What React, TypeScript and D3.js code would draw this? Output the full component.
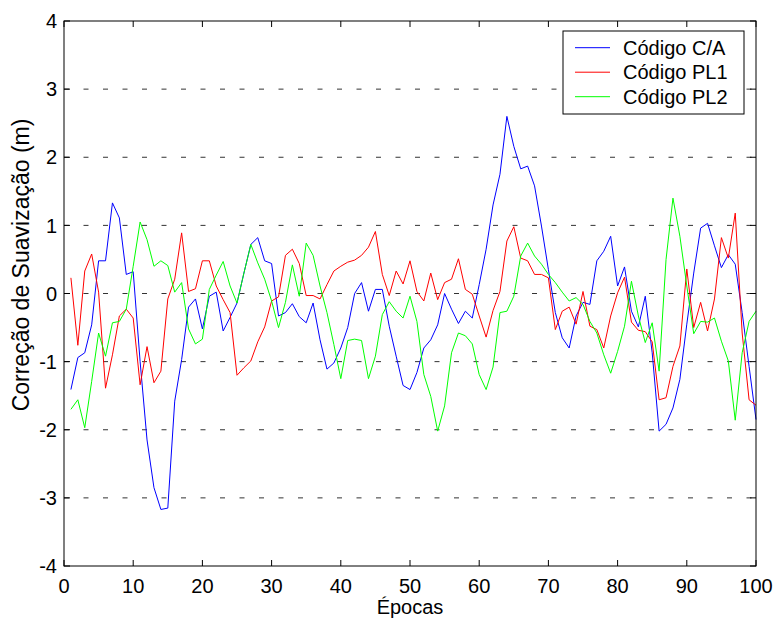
import React from "react";
import * as d3 from "d3";

const epochs: number[] = Array.from({ length: 100 }, (_, i) => i + 1);

const codigoCA: number[] = [
  -1.41, -0.94, -0.87, -0.46, 0.48, 0.48, 1.33, 1.11, 0.28, 0.32,
  -1.0, -2.15, -2.85, -3.17, -3.15, -1.58, -0.97, -0.2, -0.08, -0.52,
  -0.04, 0.02, -0.55, -0.35, -0.14, 0.3, 0.72, 0.82, 0.48, 0.44,
  -0.33, -0.28, -0.15, -0.34, -0.43, -0.14, -0.68, -1.11, -1.02, -0.8,
  -0.5, 0.0, 0.16, -0.26, 0.06, 0.06, -0.48, -0.92, -1.35, -1.41,
  -1.16, -0.8, -0.68, -0.46, 0.0, -0.23, -0.44, -0.26, -0.36, 0.13,
  0.65, 1.3, 1.75, 2.6, 2.16, 1.83, 1.87, 1.58, 0.99, 0.35,
  -0.28, -0.65, -0.8, -0.33, -0.13, -0.16, 0.48, 0.62, 0.84, 0.11,
  0.39, -0.26, -0.49, -0.04, -0.87, -2.02, -1.92, -1.68, -1.26, -0.45,
  0.3, 0.96, 1.03, 0.7, 0.38, 0.57, 0.43, -0.28, -1.07, -1.85,
];

const codigoPL1: number[] = [
  0.23, -0.76, 0.33, 0.58, 0.02, -1.39, -0.9, -0.33, -0.23, -0.36,
  -1.34, -0.78, -1.31, -1.14, -0.08, 0.21, 0.89, 0.03, 0.07, 0.48,
  0.48, 0.11, -0.09, -0.28, -1.2, -1.09, -0.99, -0.71, -0.49, -0.11,
  -0.05, 0.56, 0.65, 0.44, -0.03, -0.03, -0.08, 0.13, 0.33, 0.4,
  0.46, 0.49, 0.56, 0.68, 0.91, 0.28, -0.03, 0.33, 0.14, 0.48,
  0.03, -0.11, 0.3, -0.09, 0.16, 0.21, 0.51, 0.06, -0.01, -0.33,
  -0.64, -0.25, 0.03, 0.77, 0.98, 0.52, 0.48, 0.28, 0.28, 0.23,
  -0.53, -0.26, -0.2, -0.45, 0.03, -0.48, -0.53, -0.8, -0.33, 0.01,
  0.24, -0.42, -0.54, -0.56, -0.71, -1.56, -1.53, -1.07, -0.77, 0.36,
  -0.5, -0.13, -0.55, -0.08, 0.82, 0.52, 1.18, -0.58, -1.56, -1.64,
];

const codigoPL2: number[] = [
  -1.7, -1.56, -1.97, -1.29, -0.58, -0.92, -0.43, -0.41, -0.23, 0.4,
  1.05, 0.79, 0.4, 0.48, 0.41, 0.02, 0.16, -0.52, -0.74, -0.67,
  0.06, 0.27, 0.47, 0.11, -0.14, 0.3, 0.72, 0.45, 0.21, -0.11,
  -0.5, -0.13, 0.42, -0.04, 0.74, 0.56, 0.11, -0.28, -0.75, -1.25,
  -0.69, -0.67, -0.69, -1.25, -0.92, -0.31, -0.12, -0.26, -0.36, -0.04,
  -0.41, -1.19, -1.51, -2.02, -1.65, -0.87, -0.58, -0.62, -0.74, -1.19,
  -1.41, -1.08, -0.28, -0.26, -0.04, 0.55, 0.74, 0.55, 0.43, 0.28,
  0.16, 0.02, -0.11, -0.06, -0.16, -0.41, -0.58, -0.9, -1.17, -0.85,
  -0.48, 0.18, -0.33, -0.72, -0.43, -1.14, 0.5, 1.4, 0.84, 0.11,
  -0.59, -0.41, -0.42, -0.36, -0.7, -0.99, -1.86, -0.87, -0.41, -0.26,
];

const seriesNames: string[] = ["Código C/A", "Código PL1", "Código PL2"];
const seriesColors: string[] = ["#0000ff", "#ff0000", "#00ff00"];
const xTicks: number[] = [0, 10, 20, 30, 40, 50, 60, 70, 80, 90, 100];
const yTicks: number[] = [-4, -3, -2, -1, 0, 1, 2, 3, 4];
const gridValues: number[] = [-3, -2, -1, 0, 1, 2, 3];

const W = 776;
const H = 622;
const L = 64;
const R = 756;
const T = 21;
const B = 566;
const FONT = "Arial, 'Liberation Sans', Helvetica, sans-serif";

export default function App() {
  const x = d3.scaleLinear().domain([0, 100]).range([L, R]);
  const y = d3.scaleLinear().domain([-4, 4]).range([B, T]);
  const line = d3
    .line<[number, number]>()
    .x((d) => x(d[0]))
    .y((d) => y(d[1]));
  const allSeries = [codigoCA, codigoPL1, codigoPL2];
  const tickLen = 6;

  return (
    <svg
      width={W}
      height={H}
      style={{ position: "absolute", left: 0, top: 0, background: "#fff" }}
      fontFamily={FONT}
    >
      <rect x={0} y={0} width={W} height={H} fill="#fff" />
      {gridValues.map((v) => (
        <line
          key={"g" + v}
          x1={L}
          x2={R}
          y1={y(v)}
          y2={y(v)}
          stroke="#333"
          strokeWidth={1}
          strokeDasharray="5,14.5"
        />
      ))}
      {allSeries.map((s, i) => (
        <path
          key={"s" + i}
          d={line(epochs.map((e, j) => [e, s[j]] as [number, number])) || ""}
          fill="none"
          stroke={seriesColors[i]}
          strokeWidth={1}
        />
      ))}
      <rect x={L} y={T} width={R - L} height={B - T} fill="none" stroke="#000" strokeWidth={1} />
      {xTicks.map((t) => (
        <g key={"xt" + t}>
          <line x1={x(t)} x2={x(t)} y1={B} y2={B - tickLen} stroke="#000" />
          <line x1={x(t)} x2={x(t)} y1={T} y2={T + tickLen} stroke="#000" />
          <text x={x(t)} y={593} fontSize={20} textAnchor="middle" fill="#000">
            {t}
          </text>
        </g>
      ))}
      {yTicks.map((t) => (
        <g key={"yt" + t}>
          <line x1={L} x2={L + tickLen} y1={y(t)} y2={y(t)} stroke="#000" />
          <line x1={R} x2={R - tickLen} y1={y(t)} y2={y(t)} stroke="#000" />
          <text x={57} y={y(t)} dy="0.36em" fontSize={20} textAnchor="end" fill="#000">
            {t}
          </text>
        </g>
      ))}
      <text x={(L + R) / 2} y={614} fontSize={20} textAnchor="middle" fill="#000">
        Épocas
      </text>
      <text
        transform={`translate(28.5, 265) rotate(-90)`}
        fontSize={23}
        textAnchor="middle"
        fill="#000"
      >
        Correção de Suavização (m)
      </text>
      <g>
        <rect x={563} y={31} width={181} height={83} fill="#fff" stroke="#000" strokeWidth={1} />
        {seriesNames.map((n, i) => (
          <g key={"lg" + i}>
            <line
              x1={575}
              x2={610}
              y1={47.7 + i * 24.5}
              y2={47.7 + i * 24.5}
              stroke={seriesColors[i]}
              strokeWidth={1}
            />
            <text x={623} y={54.5 + i * 24.5} fontSize={20} fill="#000">
              {n}
            </text>
          </g>
        ))}
      </g>
    </svg>
  );
}
